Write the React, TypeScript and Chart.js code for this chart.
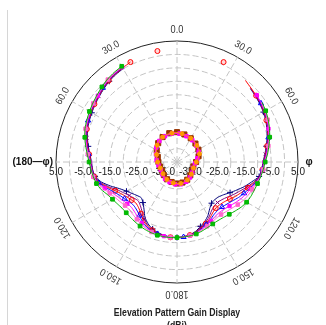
import React, { useEffect, useRef } from 'react';
import { Chart, registerables } from 'chart.js';

Chart.register(...registerables);

const N = null;

// Angle categories (degrees, clockwise from top)
const ANGLES = [
  0, 5, 10, 15, 20, 25, 30, 35, 40, 45, 50, 55,
  60, 65, 70, 75, 80, 85, 90, 95, 100, 105, 110, 115,
  120, 125, 130, 135, 140, 145, 150, 155, 160, 165, 170, 175,
  180, 185, 190, 195, 200, 205, 210, 215, 220, 225, 230, 235,
  240, 245, 250, 255, 260, 265, 270, 275, 280, 285, 290, 295,
  300, 305, 310, 315, 320, 325, 330, 335, 340, 345, 350, 355,
];

const TICK_VALUES = [5, -5, -15, -25, -35];
const ANGLE_TICK_DEGREES = [0, 30, 60, 120, 150, 180, 210, 240, 300, 330];
const ANGLE_TICK_TEXT = ['0.0', '30.0', '60.0', '120.0', '150.0', '180.0', '150.0', '120.0', '60.0', '30.0'];
const SIDE_RIGHT = 'φ';
const SIDE_LEFT = '(180—φ)';
const TITLE = ['Elevation Pattern Gain Display', '(dBi)'];

// Outer pattern traces (dBi)
const NAVY = [
  N, N, N, N, N, N, N, N, N, -1.4, -1.9, -2.4,
  -2.9, -3.6, -4.4, -5.3, -6.3, -7.2, -8.0, -8.4, -9.0, -11.3, -13.3, -15.4,
  -17.2, -18.8, -19.8, -20.2, -20.0, -18.8, -17.0, -15.6, -14.5, -13.3, -12.5, -12.1,
  -11.9, -12.0, -12.3, -12.8, -13.5, -14.6, -16.2, -18.6, -20.3, -21.2, -20.6, -19.6,
  -18.3, -16.5, -13.8, -11.0, -9.0, -8.5, -8.2, -7.5, -6.5, -5.5, -4.6, -4.0,
  -3.4, -2.8, -2.2, -1.5, -0.8, -0.3, 0.1, N, N, N, N, N,
];
const PURPLE = [
  N, N, N, N, N, N, N, N, N, -1.2, -1.7, -2.2,
  -2.7, -3.4, -4.2, -5.1, -6.1, -7.0, -7.9, -8.2, -8.9, -10.6, -12.5, -14.3,
  -15.8, -17.2, -18.2, -18.7, -18.6, -17.7, -16.3, -15.1, -14.1, -13.1, -12.4, -12.1,
  -11.9, -12.0, -12.2, -12.6, -13.2, -14.1, -15.5, -17.4, -18.8, -19.6, -19.1, -18.3,
  -17.1, -15.5, -13.0, -10.6, -8.8, -8.4, -8.0, -7.3, -6.3, -5.3, -4.4, -3.8,
  -3.2, -2.6, -2.0, -1.3, -0.6, -0.1, 0.3, N, N, N, N, N,
];
const RED = [
  N, N, N, N, N, 1.0, N, N, -0.4, -1.1, -1.6, -2.1,
  -2.6, -3.3, -4.1, -5.0, -6.0, -6.9, -7.7, -8.1, -8.8, -10.3, -11.9, -13.4,
  -14.7, -16.0, -17.0, -17.5, -17.6, -16.9, -15.7, -14.7, -13.9, -13.0, -12.4, -12.1,
  -11.9, -11.9, -12.1, -12.5, -13.0, -13.8, -14.9, -16.6, -17.8, -18.4, -18.0, -17.3,
  -16.2, -14.7, -12.5, -10.2, -8.7, -8.3, -8.0, -7.2, -6.2, -5.2, -4.3, -3.7,
  -3.1, -2.5, -1.9, -1.2, -0.5, 0.0, 0.4, 1.0, N, N, 1.9, N,
];
const BLUE = [
  N, N, N, N, N, N, N, N, N, N, -1.4, -1.9,
  -2.4, -3.1, -3.9, -4.8, -5.8, -6.7, -7.6, -8.1, -8.7, -10.0, -11.3, -12.5,
  -13.6, -14.8, -15.7, -16.3, -16.5, -16.1, -15.2, -14.3, -13.6, -12.8, -12.3, -12.0,
  -11.9, -11.9, -12.0, -12.3, -12.7, -13.4, -14.3, -15.7, -16.7, -17.2, -16.9, -16.2,
  -15.3, -13.9, -12.0, -9.9, -8.6, -8.2, -7.8, -7.0, -6.0, -5.0, -4.1, -3.5,
  -2.9, -2.3, -1.7, -1.0, -0.3, 0.2, 0.6, N, N, N, N, N,
];
const MAGENTA = [
  N, N, N, N, N, N, N, N, N, N, -1.3, -1.8,
  -2.3, -3.0, -3.8, -4.7, -5.7, -6.6, -7.5, -8.0, -8.6, -9.7, -10.8, -11.7,
  -12.6, -13.6, -14.5, -15.2, -15.5, -15.3, -14.7, -14.0, -13.3, -12.6, -12.2, -12.0,
  -11.9, -11.9, -12.0, -12.1, -12.5, -13.0, -13.8, -14.8, -15.6, -16.1, -15.9, -15.2,
  -14.4, -13.2, -11.4, -9.6, -8.5, -8.1, -7.7, -6.9, -5.9, -4.9, -4.0, -3.4,
  -2.8, -2.2, -1.6, -0.9, -0.2, 0.3, 0.7, N, N, N, N, N,
];
const PINK = [
  N, N, N, N, N, N, N, N, N, N, N, -1.6,
  -2.1, -2.8, -3.6, -4.5, -5.5, -6.4, -7.3, -7.9, -8.5, -9.4, -10.2, -10.8,
  -11.5, -12.4, -13.3, -14.0, -14.5, -14.5, -14.1, -13.6, -13.1, -12.5, -12.2, -12.0,
  -11.9, -11.8, -11.9, -12.0, -12.3, -12.7, -13.2, -14.0, -14.5, -14.9, -14.8, -14.2,
  -13.5, -12.4, -10.9, -9.4, -8.4, -8.0, -7.5, -6.7, -5.7, -4.7, -3.8, -3.2,
  -2.6, -2.0, -1.4, -0.7, 0.0, 0.5, 0.9, N, N, N, N, N,
];
const GREEN = [
  N, N, N, N, N, N, N, N, N, N, N, -1.4,
  -1.9, -2.6, -3.4, -4.3, -5.3, -6.2, -7.2, -7.8, -8.4, -9.0, -9.4, -9.7,
  -10.1, -10.8, -11.7, -12.5, -13.1, -13.4, -13.4, -13.1, -12.7, -12.3, -12.1, -12.0,
  -11.9, -11.8, -11.8, -11.8, -12.0, -12.2, -12.5, -12.8, -13.1, -13.3, -13.3, -12.9,
  -12.3, -11.4, -10.0, -9.0, -8.4, -7.9, -7.3, -6.5, -5.5, -4.5, -3.6, -3.0,
  -2.4, -1.8, -1.2, -0.5, 0.2, 0.7, 1.1, N, N, N, N, N,
];

// Inner lobe traces (dBi)
const LOOP_BROWN = [
  -28.9, -29.0, -29.2, -29.4, -29.6, -29.7, -29.8, -29.9, -30.1, -30.3, -30.5, -30.7,
  -30.8, -30.9, -31.2, -31.7, -32.2, -32.6, -32.9, -33.2, -33.5, -33.7, -33.7, -33.6,
  -33.5, -33.4, -33.2, -33.0, -32.8, -32.6, -32.4, -32.3, -32.2, -32.1, -32.0, -32.0,
  -32.0, -32.1, -32.2, -32.3, -32.4, -32.5, -32.6, -32.7, -32.9, -33.1, -33.3, -33.5,
  -33.6, -33.7, -33.6, -33.5, -33.4, -33.3, -33.1, -32.9, -32.7, -32.6, -32.3, -31.8,
  -31.3, -30.9, -30.5, -30.1, -29.8, -29.5, -29.3, -29.1, -29.0, -28.9, -28.9, -28.9,
];
const LOOP_MAGENTA = [
  -29.3, -29.4, -29.5, -29.7, -29.8, -29.9, -30.0, -30.1, -30.2, -30.4, -30.6, -30.7,
  -30.9, -31.1, -31.4, -31.8, -32.3, -32.7, -33.0, -33.3, -33.5, -33.6, -33.6, -33.5,
  -33.3, -33.1, -32.9, -32.7, -32.5, -32.3, -32.1, -31.9, -31.8, -31.7, -31.6, -31.6,
  -31.6, -31.7, -31.8, -31.9, -32.0, -32.1, -32.2, -32.3, -32.5, -32.7, -32.9, -33.1,
  -33.2, -33.3, -33.2, -33.1, -33.0, -32.8, -32.6, -32.4, -32.2, -32.0, -31.7, -31.3,
  -30.9, -30.6, -30.3, -30.0, -29.8, -29.6, -29.5, -29.4, -29.3, -29.3, -29.3, -29.3,
];
const LOOP_ORANGE = [
  -29.1, -29.2, -29.3, -29.5, -29.6, -29.7, -29.8, -29.9, -30.0, -30.2, -30.4, -30.5,
  -30.6, -30.8, -31.1, -31.5, -32.0, -32.4, -32.8, -33.1, -33.3, -33.5, -33.5, -33.4,
  -33.3, -33.2, -33.0, -32.8, -32.6, -32.4, -32.3, -32.2, -32.1, -32.0, -31.9, -31.9,
  -31.9, -32.0, -32.1, -32.2, -32.3, -32.4, -32.5, -32.6, -32.8, -33.0, -33.2, -33.4,
  -33.5, -33.5, -33.4, -33.3, -33.2, -33.0, -32.8, -32.6, -32.4, -32.2, -31.9, -31.5,
  -31.1, -30.7, -30.3, -30.0, -29.7, -29.5, -29.3, -29.2, -29.1, -29.1, -29.1, -29.1,
];

const FONT = "'Liberation Sans', Arial, sans-serif";

function markers(step: number, offset: number, r: number) {
  return (ctx: any) => {
    const i = ctx.dataIndex;
    const d = ctx.dataset.data;
    if (d[i] == null) return 0;
    const isolated = d[i - 1] == null && d[i + 1] == null;
    return isolated || i % step === offset ? r : 0;
  };
}

function trace(label: string, data: (number | null)[], color: string, style: string, fill: string, step: number, offset: number, r: number, width = 1) {
  return {
    label,
    data,
    borderColor: color,
    borderWidth: width,
    backgroundColor: 'transparent',
    fill: false,
    tension: 0.2,
    pointStyle: style,
    pointBorderColor: color,
    pointBackgroundColor: fill,
    pointBorderWidth: 1,
    pointRadius: markers(step, offset, r),
    spanGaps: false,
  };
}

const labelPlugin = {
  id: 'polarLabels',
  beforeDatasetsDraw(chart: any) {
    const s = chart.scales.r;
    const ctx = chart.ctx;
    ctx.save();
    ctx.font = `10px ${FONT}`;
    ctx.fillStyle = '#1a1a1a';
    ctx.textAlign = 'center';
    ctx.textBaseline = 'middle';
    TICK_VALUES.forEach((v) => {
      const d = s.getDistanceFromCenterForValue(v);
      ctx.fillText(v.toFixed(1), s.xCenter - d, s.yCenter + 10);
      ctx.fillText(v.toFixed(1), s.xCenter + d, s.yCenter + 10);
    });
    ctx.restore();
  },
  afterDraw(chart: any) {
    const s = chart.scales.r;
    const ctx = chart.ctx;
    const R = s.getDistanceFromCenterForValue(s.max) + 11;
    ctx.save();
    ctx.font = `10px ${FONT}`;
    ctx.fillStyle = '#333';
    ctx.textAlign = 'center';
    ctx.textBaseline = 'middle';
    ANGLE_TICK_DEGREES.forEach((deg, k) => {
      const idx = ANGLES.indexOf(deg);
      const p = s.getPointPosition(idx, R);
      ctx.save();
      ctx.translate(p.x, p.y);
      ctx.rotate(s.getIndexAngle(idx));
      ctx.scale(0.92, 1);
      ctx.fillText(ANGLE_TICK_TEXT[k], 0, 0);
      ctx.restore();
    });
    ctx.font = `bold 10px ${FONT}`;
    ctx.fillStyle = '#111';
    const pr = s.getPointPosition(ANGLES.indexOf(90), R);
    ctx.fillText(SIDE_RIGHT, pr.x, pr.y);
    const pl = s.getPointPosition(ANGLES.indexOf(270), R - 2);
    ctx.textAlign = 'right';
    ctx.fillText(SIDE_LEFT, pl.x + 6, pl.y);

    // title, condensed bold
    ctx.font = `bold 10.5px ${FONT}`;
    ctx.fillStyle = '#222';
    ctx.textAlign = 'center';
    TITLE.forEach((line, k) => {
      ctx.save();
      ctx.translate(s.xCenter, chart.chartArea.bottom + 29 + k * 13);
      ctx.scale(0.83, 1);
      ctx.fillText(line, 0, 0);
      ctx.restore();
    });
    ctx.restore();
  },
};

export default function App() {
  const ref = useRef<HTMLCanvasElement | null>(null);

  useEffect(() => {
    if (!ref.current) return;
    const chart = new Chart(ref.current, {
      type: 'radar',
      data: {
        labels: ANGLES.map(String),
        datasets: [
          trace('green', GREEN, '#00b400', 'rect', '#00c000', 3, 0, 2.6),
          trace('pink', PINK, '#ff66cc', 'rect', '#ff66cc', 3, 1, 2.5),
          trace('magenta', MAGENTA, '#ff00ff', 'rect', '#ff00ff', 4, 2, 2.3),
          trace('blue', BLUE, '#0000ff', 'triangle', 'transparent', 4, 3, 3),
          trace('red', RED, '#ff0000', 'circle', 'rgba(255,0,0,0.15)', 3, 1, 2.5),
          trace('purple', PURPLE, '#800080', 'crossRot', 'transparent', 5, 2, 2.5),
          trace('navy', NAVY, '#000080', 'cross', 'transparent', 4, 0, 3),
          trace('loopOrange', LOOP_ORANGE, '#ff9900', 'circle', '#ff9900', 4, 2, 2),
          trace('loopMagenta', LOOP_MAGENTA, '#ff00ff', 'rect', '#ff00ff', 3, 1, 2.5, 1.5),
          trace('loopBrown', LOOP_BROWN, '#993300', 'rect', '#993300', 3, 0, 3.6),
        ],
      },
      options: {
        responsive: false,
        animation: false,
        events: [],
        layout: { padding: { left: 30, right: 2, top: 41, bottom: 47 } },
        plugins: {
          legend: { display: false },
          tooltip: { enabled: false },
          title: { display: false },
        },
        scales: {
          r: {
            min: -40,
            max: 5,
            startAngle: 0,
            ticks: { display: false, stepSize: 5 },
            pointLabels: { display: false },
            grid: {
              circular: true,
              color: (c: any) => (c.tick && c.tick.value === 5 ? '#222' : '#c4c4c4'),
              lineWidth: 1,
            },
            border: {
              dash: (c: any) => (c.tick && c.tick.value === 5 ? [] : [6, 3]),
            },
            angleLines: {
              display: true,
              color: '#c4c4c4',
              lineWidth: (c: any) => (c.index % 6 === 0 ? 1 : 0),
              borderDash: [6, 3],
            },
          },
        },
      },
      plugins: [labelPlugin],
    } as any);
    return () => chart.destroy();
  }, []);

  return (
    <div style={{ position: 'absolute', left: 0, top: 0, width: 326, height: 331, background: '#fff' }}>
      <div style={{ position: 'absolute', left: 7, top: 10, width: 1, height: 321, background: '#d6d6d6' }} />
      <canvas ref={ref} width={326} height={331} style={{ display: 'block', position: 'relative' }} />
    </div>
  );
}
